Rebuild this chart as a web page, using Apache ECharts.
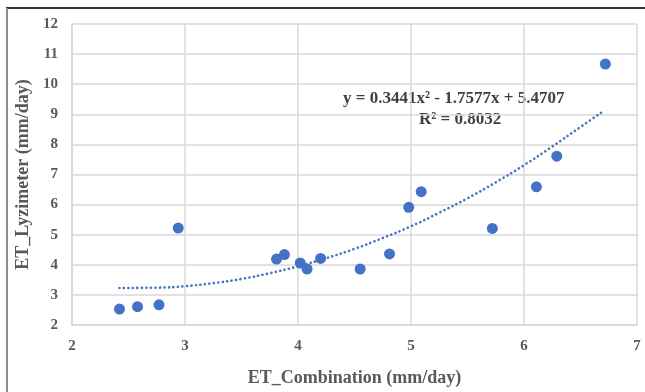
<!DOCTYPE html>
<html>
<head>
<meta charset="utf-8">
<script src="https://cdn.jsdelivr.net/npm/echarts@6/dist/echarts.min.js"></script>
<style>
  html, body { margin: 0; padding: 0; background: #fff; }
  #chart { width: 645px; height: 392px; }
</style>
</head>
<body>
<div id="chart"></div>
<script>
// measured points (mm/day)
const etCombination = [2.42, 2.58, 2.77, 2.94, 3.81, 3.88, 4.02, 4.08, 4.20, 4.55, 4.81, 4.98, 5.09, 5.72, 6.11, 6.29, 6.72]
const etLyzimeter   = [2.53, 2.61, 2.67, 5.22, 4.19, 4.34, 4.06, 3.86, 4.21, 3.86, 4.36, 5.91, 6.43, 5.21, 6.59, 7.61, 10.67]

// dotted polynomial trendline
const trendX = [2.42, 2.75, 3.0, 3.25, 3.5, 3.75, 4.0, 4.25, 4.5, 4.75, 5.0, 5.25, 5.5, 5.75, 6.0, 6.25, 6.5, 6.70]
const trendY = [3.23, 3.24, 3.29, 3.39, 3.53, 3.72, 3.95, 4.22, 4.53, 4.89, 5.28, 5.73, 6.21, 6.74, 7.31, 7.93, 8.58, 9.10]

const eqText = 'y = 0.3441x\u00B2 - 1.7577x + 5.4707'
const r2Text = 'R\u00B2 = 0.8032'

const blue = '#4472C4'
const gridGray = '#d9d9d9'
const textGray = '#595959'
const serif = '"Liberation Serif", "Times New Roman", serif'

const chart = echarts.init(document.getElementById('chart'), null, { renderer: 'canvas' })

chart.setOption({
  backgroundColor: '#fff',
  animation: false,
  grid: { left: 72, right: 8, top: 24, bottom: 66 },
  xAxis: {
    type: 'value',
    min: 2, max: 7, interval: 1,
    name: 'ET_Combination (mm/day)',
    nameLocation: 'middle',
    nameGap: 44,
    nameTextStyle: { color: textGray, fontFamily: serif, fontWeight: 'bold', fontSize: 18 },
    axisLine: { show: true, lineStyle: { color: gridGray, width: 1.5 } },
    axisTick: { show: false },
    axisLabel: { color: textGray, fontFamily: serif, fontWeight: 'bold', fontSize: 15, margin: 14 },
    splitLine: { show: true, lineStyle: { color: gridGray, width: 1.5 } }
  },
  yAxis: {
    type: 'value',
    min: 2, max: 12, interval: 1,
    name: 'ET_Lyzimeter (mm/day)',
    nameLocation: 'middle',
    nameGap: 40,
    nameTextStyle: { color: textGray, fontFamily: serif, fontWeight: 'bold', fontSize: 18 },
    axisLine: { show: true, lineStyle: { color: gridGray, width: 1.5 } },
    axisTick: { show: false },
    axisLabel: { color: textGray, fontFamily: serif, fontWeight: 'bold', fontSize: 15, margin: 14 },
    splitLine: { show: true, lineStyle: { color: gridGray, width: 1.5 } }
  },
  series: [
    {
      type: 'line',
      data: trendX.map((x, i) => [x, trendY[i]]),
      smooth: true,
      symbol: 'none',
      lineStyle: { color: blue, width: 2.6, type: [0.1, 4.4], cap: 'round' },
      z: 2
    },
    {
      type: 'scatter',
      data: etCombination.map((x, i) => [x, etLyzimeter[i]]),
      symbol: 'circle',
      symbolSize: 11,
      itemStyle: { color: blue, opacity: 1 },
      z: 3
    }
  ],
  graphic: [
    { type: 'line', shape: { x1: 6, y1: 8, x2: 645, y2: 8 }, style: { stroke: '#333', lineWidth: 2 } },
    { type: 'line', shape: { x1: 7, y1: 8, x2: 7, y2: 392 }, style: { stroke: '#8c8c8c', lineWidth: 2 } },
    {
      type: 'text', left: 343, top: 90,
      style: { text: eqText, fill: '#404040', font: 'bold 17px ' + serif, textAlign: 'left' }
    },
    {
      type: 'text', left: 419, top: 111,
      style: { text: r2Text, fill: '#404040', font: 'bold 17px ' + serif, textAlign: 'left' }
    }
  ]
})
</script>
</body>
</html>
